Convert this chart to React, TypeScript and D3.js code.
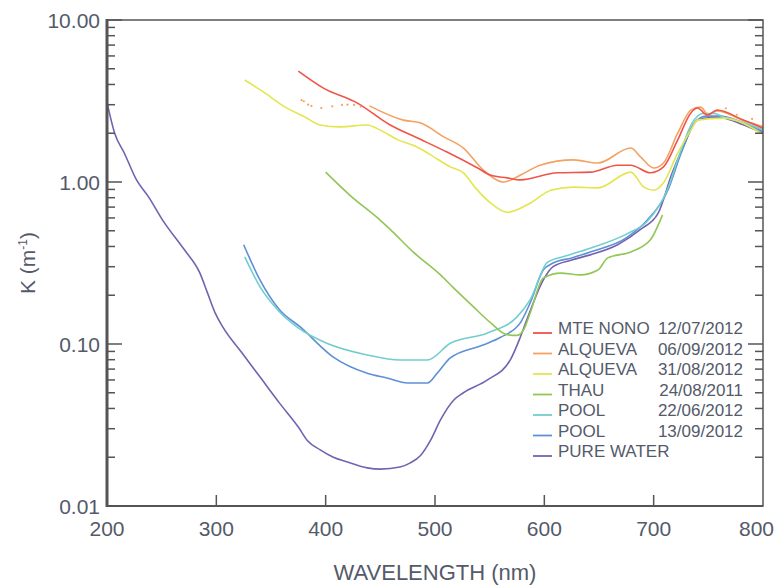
import React from "react";
import * as d3 from "d3";

type Pt = [number, number];

// Attenuation spectra: [wavelength nm, K m^-1]
const mteNono: Pt[] = [
  [375, 4.84], [398, 3.8], [429, 3.07], [459, 2.25], [484, 1.87], [511, 1.53], [539, 1.22],
  [551, 1.1], [566, 1.06], [578, 1.03], [612, 1.14], [642, 1.15], [667, 1.27], [679, 1.27],
  [697, 1.14], [709, 1.24], [722, 1.82], [734, 2.67], [740, 2.86], [749, 2.59], [758, 2.78],
  [782, 2.41], [800, 2.15],
];
const alqueva0609Dots: Pt[] = [
  [378, 3.2], [380, 3.15], [384, 3.0], [387, 2.95], [396, 2.86], [406, 2.93], [415, 2.99],
  [420, 3.0], [426, 2.99], [432, 2.92], [766, 2.85], [776, 2.6], [790, 2.45],
];
const alqueva0609: Pt[] = [
  [440, 2.95], [471, 2.41], [487, 2.31], [508, 1.9], [526, 1.62], [544, 1.19], [563, 1.0],
  [580, 1.12], [596, 1.27], [627, 1.37], [649, 1.31], [679, 1.62], [688, 1.43], [700, 1.22],
  [709, 1.31], [722, 2.0], [734, 2.78], [743, 2.9], [750, 2.6], [758, 2.75], [782, 2.4],
  [800, 2.2],
];
const alqueva3108: Pt[] = [
  [326, 4.26], [343, 3.6], [363, 2.9], [381, 2.52], [395, 2.25], [413, 2.19], [438, 2.25],
  [450, 2.09], [466, 1.82], [484, 1.64], [496, 1.47], [514, 1.24], [526, 1.14], [537, 0.92],
  [551, 0.74], [566, 0.65], [587, 0.74], [606, 0.89], [627, 0.93], [649, 0.92], [679, 1.15],
  [691, 0.93], [700, 0.89], [709, 0.99], [722, 1.51], [734, 2.09], [740, 2.41], [764, 2.48],
  [798, 2.0],
];
const thau: Pt[] = [
  [400, 1.15], [422, 0.83], [450, 0.58], [459, 0.51], [480, 0.37], [505, 0.267], [517, 0.222],
  [535, 0.17], [551, 0.135], [566, 0.114], [575, 0.113], [581, 0.122], [587, 0.155],
  [599, 0.255], [615, 0.274], [633, 0.267], [649, 0.286], [658, 0.34], [679, 0.37],
  [697, 0.44], [708, 0.625],
];
const pool2206: Pt[] = [
  [326, 0.345], [340, 0.225], [357, 0.16], [374, 0.127], [401, 0.101], [438, 0.0855],
  [468, 0.0796], [493, 0.0796], [514, 0.101], [548, 0.117], [575, 0.147], [587, 0.187],
  [603, 0.32], [620, 0.35], [642, 0.39], [676, 0.48], [694, 0.57], [712, 0.88], [724, 1.5],
  [735, 2.3], [745, 2.65], [755, 2.65], [765, 2.5], [780, 2.35], [800, 2.1],
];
const pool1309: Pt[] = [
  [325, 0.41], [340, 0.248], [358, 0.162], [377, 0.127], [407, 0.083], [438, 0.066],
  [456, 0.0617], [475, 0.0574], [493, 0.0574], [502, 0.066], [514, 0.082], [544, 0.0986],
  [560, 0.11], [578, 0.135], [587, 0.179], [599, 0.286], [608, 0.316], [625, 0.34],
  [642, 0.37], [676, 0.457], [694, 0.58], [713, 0.89], [725, 1.5], [737, 2.3], [748, 2.55],
  [760, 2.55], [780, 2.35], [800, 2.05],
];
const pureWater: Pt[] = [
  [200, 3.1], [207, 2.0], [216, 1.5], [227, 1.03], [238, 0.81], [251, 0.58], [271, 0.38],
  [285, 0.274], [292, 0.206], [299, 0.155], [306, 0.127], [323, 0.089], [340, 0.0625],
  [358, 0.043], [375, 0.0307], [383, 0.0255], [395, 0.0222], [407, 0.02], [420, 0.0187],
  [438, 0.0172], [450, 0.0169], [468, 0.0174], [477, 0.0184], [487, 0.0206], [496, 0.0255],
  [505, 0.034], [517, 0.045], [526, 0.05], [548, 0.06], [569, 0.08], [578, 0.11], [585, 0.147],
  [599, 0.248], [608, 0.3], [625, 0.33], [642, 0.355], [667, 0.41], [688, 0.51], [704, 0.64],
  [717, 1.14], [727, 1.64], [740, 2.41], [752, 2.5], [764, 2.48], [780, 2.28], [800, 2.0],
];

const legendNames = ["MTE NONO", "ALQUEVA", "ALQUEVA", "THAU", "POOL", "POOL", "PURE WATER"];
const legendDates = ["12/07/2012", "06/09/2012", "31/08/2012", "24/08/2011", "22/06/2012", "13/09/2012", ""];
const seriesColors = ["#ef5448", "#f4a262", "#e3e64e", "#92c655", "#72cdcf", "#5d90d6", "#7462b0"];
const seriesData = [mteNono, alqueva0609, alqueva3108, thau, pool2206, pool1309, pureWater];

const xTicks = [200, 300, 400, 500, 600, 700, 800];
const yTicks = [0.01, 0.1, 1, 10];
const yTickLabels = ["0.01", "0.10", "1.00", "10.00"];

const W = 775;
const H = 586;
const left = 107;
const right = 763;
const top = 20;
const bottom = 506;
const font = "'Liberation Sans', Arial, Helvetica, sans-serif";
const textColor = "#545a6a";
const axisColor = "#555555";

export default function App() {
  const x = d3.scaleLinear().domain([200, 800]).range([left, right]);
  const y = d3.scaleLog().domain([0.01, 10]).range([bottom, top]);
  const line = d3
    .line<Pt>()
    .x((d) => x(d[0]))
    .y((d) => y(d[1]))
    .curve(d3.curveMonotoneX);

  const minor: number[] = [];
  [0.01, 0.1, 1].forEach((dec) => {
    for (let m = 2; m <= 9; m++) minor.push(dec * m);
  });

  // draw order: pure water underneath, MTE NONO on top
  const order = [6, 5, 4, 3, 2, 1, 0];

  return (
    <svg width={W} height={H} style={{ position: "absolute", left: 0, top: 0, background: "#fff" }}>
      {order.map((i) => (
        <path
          key={i}
          d={line(seriesData[i]) || ""}
          fill="none"
          stroke={seriesColors[i]}
          strokeWidth={1.6}
          strokeLinejoin="round"
        />
      ))}
      {alqueva0609Dots.map((d, i) => (
        <circle key={i} cx={x(d[0])} cy={y(d[1])} r={1.1} fill={seriesColors[1]} />
      ))}

      {/* frame */}
      <rect x={left} y={top} width={right - left} height={bottom - top} fill="none" stroke={axisColor} strokeWidth={1.5} />
      <line x1={left} x2={left} y1={top - 1} y2={bottom + 1} stroke={axisColor} strokeWidth={3} />
      <line x1={left} x2={right} y1={bottom} y2={bottom} stroke={axisColor} strokeWidth={2} />

      {/* y ticks, both sides pointing inward */}
      {minor.map((v, i) => (
        <g key={i}>
          <line x1={left} x2={left + 8} y1={y(v)} y2={y(v)} stroke={axisColor} strokeWidth={1.5} />
          <line x1={right} x2={right - 8} y1={y(v)} y2={y(v)} stroke={axisColor} strokeWidth={1.5} />
        </g>
      ))}
      {yTicks.map((v, i) => (
        <g key={i}>
          <line x1={left} x2={left + 15} y1={y(v)} y2={y(v)} stroke={axisColor} strokeWidth={1.5} />
          <line x1={right} x2={right - 15} y1={y(v)} y2={y(v)} stroke={axisColor} strokeWidth={1.5} />
          <text x={left - 7} y={y(v)} dy="0.36em" textAnchor="end" fontFamily={font} fontSize={21} fill={textColor}>
            {yTickLabels[i]}
          </text>
        </g>
      ))}

      {/* x ticks */}
      {xTicks.map((v) => (
        <g key={v}>
          {v > 200 && v < 800 && (
            <line x1={x(v)} x2={x(v)} y1={bottom} y2={bottom - 11} stroke={axisColor} strokeWidth={1.5} />
          )}
          <text
            x={v === 800 ? W - 1 : x(v)}
            y={bottom + 30}
            textAnchor={v === 800 ? "end" : "middle"}
            fontFamily={font}
            fontSize={21}
            fill={textColor}
          >
            {v}
          </text>
        </g>
      ))}

      <text x={(left + right) / 2} y={580} textAnchor="middle" fontFamily={font} fontSize={22} fill={textColor}>
        WAVELENGTH (nm)
      </text>
      <text
        transform={`translate(35, ${(top + bottom) / 2}) rotate(-90)`}
        textAnchor="middle"
        fontFamily={font}
        fontSize={21}
        fill={textColor}
      >
        K (m
        <tspan fontSize={12} dy={-8}>-1</tspan>
        <tspan dy={8}>)</tspan>
      </text>

      {/* legend */}
      {legendNames.map((name, i) => {
        const by = 334 + i * 20.5;
        return (
          <g key={i}>
            <line x1={533} x2={552} y1={by - 1} y2={by - 1} stroke={seriesColors[i]} strokeWidth={1.8} />
            <text x={558} y={by} fontFamily={font} fontSize={17} fill={textColor}>
              {name}
            </text>
            {legendDates[i] && (
              <text x={743} y={by} textAnchor="end" fontFamily={font} fontSize={17} fill={textColor}>
                {legendDates[i]}
              </text>
            )}
          </g>
        );
      })}
    </svg>
  );
}
